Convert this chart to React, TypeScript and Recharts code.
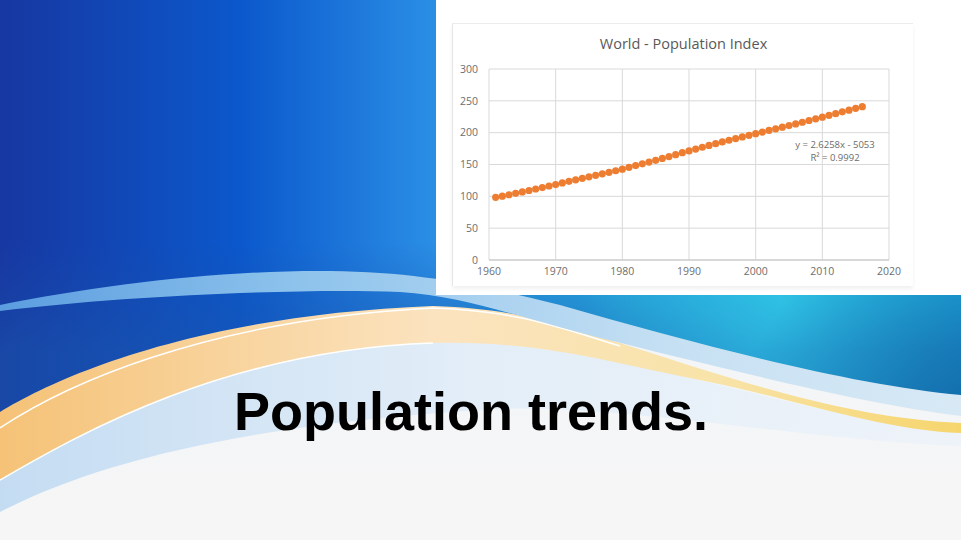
import React from 'react';
import { ScatterChart, Scatter, XAxis, YAxis, CartesianGrid } from 'recharts';

// World population index (one point per year)
const years = [
  1961, 1962, 1963, 1964, 1965, 1966, 1967, 1968, 1969, 1970,
  1971, 1972, 1973, 1974, 1975, 1976, 1977, 1978, 1979, 1980,
  1981, 1982, 1983, 1984, 1985, 1986, 1987, 1988, 1989, 1990,
  1991, 1992, 1993, 1994, 1995, 1996, 1997, 1998, 1999, 2000,
  2001, 2002, 2003, 2004, 2005, 2006, 2007, 2008, 2009, 2010,
  2011, 2012, 2013, 2014, 2015, 2016,
];
const indexValues = [
  98.5, 100.3, 102.5, 104.7, 106.9, 109.2, 111.5, 113.8, 116.2, 118.4,
  121.0, 123.5, 125.9, 128.3, 130.7, 133.0, 135.4, 137.7, 140.2, 142.7,
  145.5, 148.3, 151.0, 153.8, 156.6, 159.5, 162.5, 165.5, 168.5, 171.4,
  174.3, 177.1, 179.9, 182.7, 185.4, 188.1, 190.7, 193.3, 195.9, 198.4,
  201.0, 203.5, 206.1, 208.6, 211.2, 213.8, 216.4, 219.1, 221.7, 224.4,
  227.2, 229.9, 232.7, 235.4, 238.2, 240.9,
];
const xTicks = [1960, 1970, 1980, 1990, 2000, 2010, 2020];
const yTicks = [0, 50, 100, 150, 200, 250, 300];

const chartTitle = 'World - Population Index';
const trendEquation = 'y = 2.6258x - 5053';
const trendR2 = 'R² = 0.9992';
const slideTitle = 'Population trends.';

const points = years.map((year, i) => ({ year, value: indexValues[i] }));

const tickStyle = { fill: '#6e6e6e', fontSize: 10.5, fontFamily: 'Open Sans, sans-serif' };

const Dot = (props: any) => <circle cx={props.cx} cy={props.cy} r={3.6} fill="#ED7D31" />;

// slide decoration (waves), not chart data
const BLUE =
  'M0,0 H961 V410 C850,396 700,358 600,334 C540,320 500,318 433,318 C300,320 130,370 0,440 Z';

const Background = () => (
  <svg width={961} height={540} style={{ position: 'absolute', left: 0, top: 0 }}>
    <defs>
      <linearGradient id="bg" x1="0" y1="0" x2="0" y2="1">
        <stop offset="0" stopColor="#eef3f9" />
        <stop offset="1" stopColor="#f6f6f6" />
      </linearGradient>
      <linearGradient id="blue" x1="0" y1="0" x2="1" y2="0">
        <stop offset="0" stopColor="#1737a1" />
        <stop offset="0.25" stopColor="#0b58cc" />
        <stop offset="0.45" stopColor="#2a8ee5" />
        <stop offset="0.65" stopColor="#27b3e3" />
        <stop offset="0.85" stopColor="#24c2e6" />
        <stop offset="1" stopColor="#1bb6e0" />
      </linearGradient>
      <linearGradient id="blueShadeLeft" x1="0" y1="0" x2="0" y2="1">
        <stop offset="0.55" stopColor="#1a4fa8" stopOpacity="0" />
        <stop offset="0.8" stopColor="#1a55aa" stopOpacity="0.55" />
      </linearGradient>
      <radialGradient id="cyanGlow" cx="780" cy="300" r="200" gradientUnits="userSpaceOnUse">
        <stop offset="0" stopColor="#34cdea" stopOpacity="0.7" />
        <stop offset="1" stopColor="#34cdea" stopOpacity="0" />
      </radialGradient>
      <radialGradient id="darkRight" cx="961" cy="450" r="230" gradientUnits="userSpaceOnUse">
        <stop offset="0" stopColor="#0d5f9c" stopOpacity="0.85" />
        <stop offset="0.55" stopColor="#1474b0" stopOpacity="0.45" />
        <stop offset="1" stopColor="#1474b0" stopOpacity="0" />
      </radialGradient>
      <linearGradient id="orange" x1="0" y1="0" x2="1" y2="0">
        <stop offset="0" stopColor="#f5c277" />
        <stop offset="0.45" stopColor="#fbe3bf" />
        <stop offset="0.75" stopColor="#f8e3a8" />
        <stop offset="1" stopColor="#f6d56c" />
      </linearGradient>
      <linearGradient id="pale" x1="0" y1="0" x2="1" y2="0">
        <stop offset="0" stopColor="#c4dcf2" />
        <stop offset="0.5" stopColor="#e3eef8" />
        <stop offset="1" stopColor="#eef3f9" />
      </linearGradient>
      <linearGradient id="lightBand" x1="0" y1="0" x2="1" y2="0">
        <stop offset="0" stopColor="#5b9de0" />
        <stop offset="0.3" stopColor="#8cc2ec" />
        <stop offset="0.7" stopColor="#c6e0f3" />
        <stop offset="1" stopColor="#d8e9f5" />
      </linearGradient>
    </defs>
    <rect x={0} y={0} width={961} height={540} fill="url(#bg)" />
    <path
      d="M0,478 C70,440 220,350 433,343 C600,335 800,420 961,432 V446 C800,440 600,400 480,410 C250,425 100,460 0,512 Z"
      fill="url(#pale)"
    />
    <path d={BLUE} fill="url(#blue)" />
    <path d={BLUE} fill="url(#blueShadeLeft)" />
    <path d={BLUE} fill="url(#cyanGlow)" />
    <path d={BLUE} fill="url(#darkRight)" />
    <path
      d="M0,412 C60,375 200,315 433,306 C520,309 560,325 620,343 C750,385 850,418 961,423 L961,433 C880,430 800,400 700,380 C620,365 540,340 433,343 C220,350 70,440 0,480 Z"
      fill="url(#orange)"
    />
    <path d="M0,428 C60,388 200,320 433,308 C520,311 560,328 620,346" fill="none" stroke="#ffffff" strokeWidth={1.5} />
    <path d="M0,480 C70,440 220,350 433,343" fill="none" stroke="#ffffff" strokeWidth={1.5} />
    <path
      d="M0,305 C100,285 220,270 330,271 C420,272 480,285 560,305 C700,345 850,385 961,395 L961,416 C850,402 700,362 600,338 C520,318 470,297 400,292 C300,288 120,296 0,311 Z"
      fill="url(#lightBand)"
    />
  </svg>
);

export default function App() {
  return (
    <div style={{ position: 'absolute', left: 0, top: 0, width: 961, height: 540, overflow: 'hidden' }}>
      <Background />
      <div style={{ position: 'absolute', left: 436, top: 0, width: 525, height: 295, background: '#ffffff' }}>
        <div
          style={{
            position: 'absolute',
            left: 16,
            top: 23,
            width: 460,
            height: 262,
            borderLeft: '1px solid #e6e6e6',
            borderTop: '1px solid #ececec',
            boxShadow: '0 3px 4px rgba(0,0,0,0.06)',
          }}
        />
        <div
          style={{
            position: 'absolute',
            left: 0,
            width: 525,
            top: 34,
            textAlign: 'center',
            fontFamily: 'Open Sans, sans-serif',
            fontSize: 14.5,
            color: '#595959',
            lineHeight: '20px',
            transform: 'translateX(-15px)',
          }}
        >
          {chartTitle}
        </div>
        <div style={{ position: 'absolute', left: 0, top: 0 }}>
          <ScatterChart width={525} height={295} margin={{ top: 69, right: 72, bottom: 15, left: 13 }}>
            <CartesianGrid stroke="#d9d9d9" strokeWidth={1} />
            <XAxis
              type="number"
              dataKey="year"
              domain={[1960, 2020]}
              ticks={xTicks}
              height={20}
              tickSize={0}
              tickMargin={8}
              axisLine={{ stroke: '#c4c4c4' }}
              tick={tickStyle}
            />
            <YAxis
              type="number"
              dataKey="value"
              domain={[0, 300]}
              ticks={yTicks}
              width={40}
              tickSize={0}
              tickMargin={11}
              axisLine={false}
              tick={tickStyle}
            />
            <Scatter data={points} shape={Dot} isAnimationActive={false} />
          </ScatterChart>
        </div>
        <div
          style={{
            position: 'absolute',
            left: 334,
            width: 130,
            top: 138,
            textAlign: 'center',
            fontFamily: 'Open Sans, sans-serif',
            fontSize: 9.5,
            lineHeight: '13px',
            color: '#6b6b6b',
          }}
        >
          <div>{trendEquation}</div>
          <div>{trendR2}</div>
        </div>
      </div>
      <div
        style={{
          position: 'absolute',
          left: 234,
          top: 381,
          fontFamily: '"Liberation Sans", Arial, sans-serif',
          fontWeight: 'bold',
          fontSize: 54,
          lineHeight: '60px',
          color: '#000000',
          whiteSpace: 'nowrap',
        }}
      >
        {slideTitle}
      </div>
    </div>
  );
}
